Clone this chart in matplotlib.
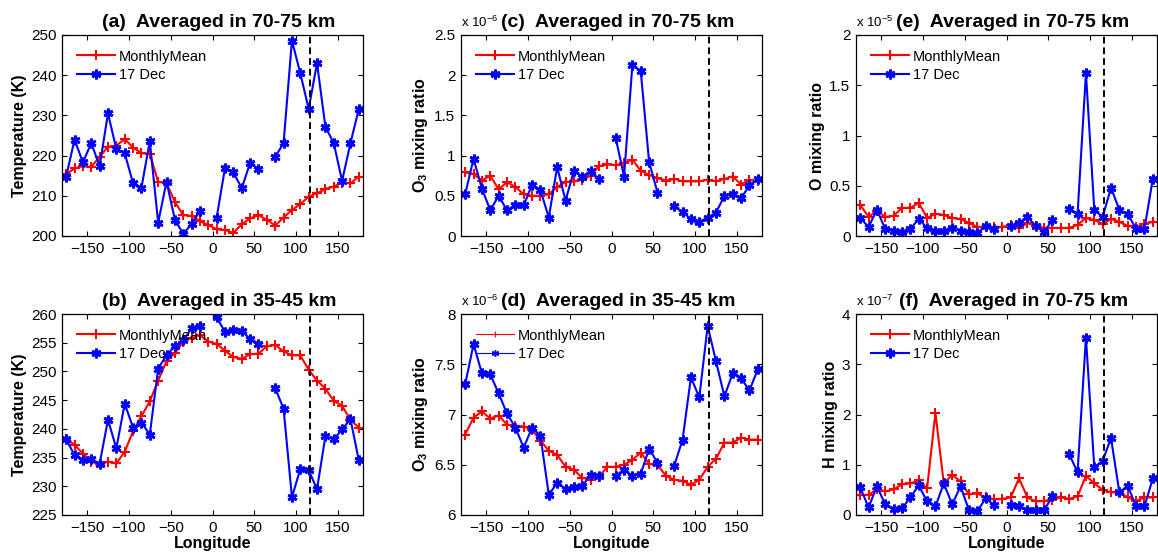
import numpy as np
import matplotlib
matplotlib.use("Agg")
import matplotlib.pyplot as plt
from matplotlib.lines import Line2D
from matplotlib.ticker import FuncFormatter, MultipleLocator

plt.rcParams['font.family'] = ['Liberation Sans', 'DejaVu Sans']
plt.rcParams['mathtext.fontset'] = 'custom'
plt.rcParams['mathtext.rm'] = 'Liberation Sans'
plt.rcParams['mathtext.bf'] = 'Liberation Sans:bold'
plt.rcParams['mathtext.it'] = 'Liberation Sans:italic'

nan = np.nan

# ---------------- data ----------------
longitude = [-175, -165, -155, -145, -135, -125, -115, -105, -95, -85, -75, -65,
             -55, -45, -35, -25, -15, -5, 5, 15, 25, 35, 45, 55,
             65, 75, 85, 95, 105, 115, 125, 135, 145, 155, 165, 175]

# (a) Temperature, 70-75 km (K)
temp70_mean = [215.4, 216.8, 217.4, 217.2, 219.7, 222.2, 222.5, 224.1, 222.0, 220.6, 220.4, 213.5,
               213.1, 208.5, 205.2, 205.0, 203.7, 202.7, 201.7, 201.5, 200.8, 202.9, 204.4, 205.2,
               204.0, 202.6, 204.6, 206.5, 207.9, 209.8, 210.6, 211.7, 212.3, 213.3, 213.1, 214.8]
temp70_dec17 = [214.8, 224.0, 218.3, 223.1, 217.4, 230.5, 221.6, 220.6, 213.1, 212.0, 223.6, 203.3,
                213.5, 204.1, 200.5, 203.0, 206.2, nan, 204.6, 217.0, 215.8, 211.9, 218.2, 216.6,
                nan, 219.7, 223.1, 248.6, 240.5, 231.6, 243.0, 227.2, 223.1, 213.7, 223.1, 231.6]

# (b) Temperature, 35-45 km (K)
temp40_mean = [238.3, 237.2, 235.7, 234.3, 233.8, 234.3, 234.0, 236.0, 239.6, 242.2, 244.8, 248.4,
               251.8, 253.2, 255.2, 255.8, 256.3, 255.2, 254.8, 253.6, 252.5, 252.2, 253.0, 253.1,
               254.4, 254.6, 253.5, 252.8, 252.8, 250.3, 248.4, 247.0, 244.9, 244.0, 241.6, 240.2]
temp40_dec17 = [238.2, 235.4, 234.5, 234.7, 233.9, 241.6, 236.6, 244.4, 240.2, 241.1, 239.0, 250.5,
                252.8, 254.4, 255.4, 257.5, 257.9, nan, 259.4, 256.9, 257.3, 257.0, 255.7, 254.8,
                nan, 247.1, 243.5, 228.1, 233.0, 232.8, 229.5, 238.7, 238.2, 239.9, 241.7, 234.5]

# (c) O3 mixing ratio, 70-75 km (units of 1e-6)
o3_70_mean = [0.79, 0.77, 0.69, 0.75, 0.58, 0.67, 0.61, 0.52, 0.50, 0.50, 0.52, 0.61,
              0.67, 0.68, 0.70, 0.75, 0.87, 0.89, 0.88, 0.91, 0.95, 0.81, 0.76, 0.72,
              0.69, 0.71, 0.68, 0.68, 0.68, 0.70, 0.68, 0.71, 0.74, 0.64, 0.70, 0.68]
o3_70_dec17 = [0.52, 0.96, 0.59, 0.32, 0.50, 0.32, 0.38, 0.38, 0.64, 0.57, 0.23, 0.86,
               0.44, 0.81, 0.74, 0.81, 0.71, nan, 1.22, 0.74, 2.13, 2.05, 0.92, 0.54,
               nan, 0.37, 0.30, 0.21, 0.17, 0.23, 0.29, 0.50, 0.52, 0.47, 0.63, 0.71]

# (d) O3 mixing ratio, 35-45 km (units of 1e-6)
o3_40_mean = [6.80, 6.97, 7.03, 6.96, 6.99, 6.90, 6.89, 6.88, 6.85, 6.74, 6.64, 6.60,
              6.48, 6.45, 6.37, 6.35, 6.38, 6.48, 6.48, 6.50, 6.55, 6.62, 6.51, 6.50,
              6.39, 6.35, 6.34, 6.30, 6.35, 6.48, 6.56, 6.72, 6.72, 6.77, 6.75, 6.75]
o3_40_dec17 = [7.30, 7.70, 7.41, 7.40, 7.21, 7.01, 6.87, 6.67, 6.87, 6.79, 6.20, 6.32,
               6.26, 6.28, 6.29, 6.40, 6.39, nan, 6.39, 6.45, 6.39, 6.41, 6.66, 6.52,
               nan, 6.49, 6.75, 7.37, 7.17, 7.88, 7.53, 7.18, 7.41, 7.36, 7.24, 7.45]

# (e) O mixing ratio, 70-75 km (units of 1e-5)
o_70_mean = [0.31, 0.19, 0.25, 0.19, 0.20, 0.28, 0.28, 0.33, 0.18, 0.22, 0.21, 0.18,
             0.17, 0.13, 0.09, 0.09, 0.09, 0.09, 0.11, 0.08, 0.13, 0.10, 0.08, 0.08,
             0.08, 0.08, 0.11, 0.18, 0.16, 0.12, 0.17, 0.14, 0.10, 0.09, 0.12, 0.14]
o_70_dec17 = [0.18, 0.09, 0.26, 0.07, 0.05, 0.04, 0.07, 0.17, 0.08, 0.05, 0.05, 0.08,
              0.05, 0.04, 0.03, 0.10, 0.07, nan, 0.10, 0.13, 0.19, 0.10, 0.04, 0.16,
              nan, 0.27, 0.22, 1.62, 0.26, 0.19, 0.48, 0.26, 0.22, 0.07, 0.07, 0.57]

# (f) H mixing ratio, 70-75 km (units of 1e-7)
h_70_mean = [0.40, 0.40, 0.51, 0.47, 0.51, 0.61, 0.63, 0.69, 0.53, 2.03, 0.63, 0.80,
             0.67, 0.41, 0.43, 0.35, 0.31, 0.32, 0.35, 0.73, 0.35, 0.27, 0.28, 0.30,
             0.35, 0.32, 0.37, 0.78, 0.63, 0.50, 0.45, 0.45, 0.35, 0.28, 0.35, 0.35]
h_70_dec17 = [0.55, 0.15, 0.57, 0.21, 0.11, 0.13, 0.35, 0.59, 0.27, 0.17, 0.63, 0.21,
              0.57, 0.10, 0.07, 0.33, 0.20, nan, 0.20, 0.18, 0.10, 0.10, 0.10, 0.37,
              nan, 1.21, 0.85, 3.53, 0.95, 1.08, 1.53, 0.45, 0.58, 0.17, 0.17, 0.73]

event_longitude = 117

panels = [
    dict(pos=(62, 35), mean=temp70_mean, dec=temp70_dec17, ylim=(200, 250), ystep=10,
         ylabel='Temperature (K)', title='(a)  Averaged in 70-75 km', scale=None, xlabel=False),
    dict(pos=(62, 314), mean=temp40_mean, dec=temp40_dec17, ylim=(225, 260), ystep=5,
         ylabel='Temperature (K)', title='(b)  Averaged in 35-45 km', scale=None, xlabel=True),
    dict(pos=(461, 35), mean=o3_70_mean, dec=o3_70_dec17, ylim=(0, 2.5), ystep=0.5,
         ylabel=r'O$_{\mathbf{3}}$ mixing ratio', title='(c)  Averaged in 70-75 km', scale='-6', xlabel=False),
    dict(pos=(461, 314), mean=o3_40_mean, dec=o3_40_dec17, ylim=(6, 8), ystep=0.5,
         ylabel=r'O$_{\mathbf{3}}$ mixing ratio', title='(d)  Averaged in 35-45 km', scale='-6', xlabel=True,
         thin_legend=True),
    dict(pos=(856, 35), mean=o_70_mean, dec=o_70_dec17, ylim=(0, 2), ystep=0.5,
         ylabel='O mixing ratio', title='(e)  Averaged in 70-75 km', scale='-5', xlabel=False),
    dict(pos=(856, 314), mean=h_70_mean, dec=h_70_dec17, ylim=(0, 4), ystep=1,
         ylabel='H mixing ratio', title='(f)  Averaged in 70-75 km', scale='-7', xlabel=True),
]

W, H = 1158, 556
fig = plt.figure(figsize=(W / 100, H / 100), dpi=100)
fmt = FuncFormatter(lambda v, p: '%g' % round(v, 6))

ast = (6, 2, 0)
for p in panels:
    x0, y0 = p['pos']
    aw, ah = 301, 201
    ax = fig.add_axes([x0 / W, 1 - (y0 + ah) / H, aw / W, ah / H])
    ax.plot(longitude, p['mean'], color='red', marker='+', ms=7, mew=1.5, lw=1.5,
            label='MonthlyMean')
    ax.plot(longitude, p['dec'], color='blue', marker=ast, ms=7, mew=2, lw=1.5,
            label='17 Dec')
    ax.axvline(event_longitude, color='black', ls='--', lw=1.4, dashes=(3.5, 2))
    ax.set_xlim(-180, 180)
    ax.set_ylim(*p['ylim'])
    ax.xaxis.set_major_locator(MultipleLocator(50))
    ax.yaxis.set_major_locator(MultipleLocator(p['ystep']))
    ax.yaxis.set_major_formatter(fmt)
    ax.tick_params(direction='in', top=True, right=True, length=3.5, width=0.8,
                   labelsize=11, pad=4)
    for s in ax.spines.values():
        s.set_linewidth(0.9)
    ax.set_ylabel(p['ylabel'], fontsize=11.5, fontweight='bold', labelpad=3)
    if p['xlabel']:
        ax.set_xlabel('Longitude', fontsize=11.5, fontweight='bold', labelpad=1)
    t = ax.set_title(p['title'], fontsize=14, fontweight='bold', pad=6)
    t.set_x(0.522)
    if p['scale']:
        ax.text(0.0, 1.025, r'x 10$^{%s}$' % p['scale'], transform=ax.transAxes,
                ha='left', va='bottom', fontsize=9.5)
    if p.get('thin_legend'):
        handles = [Line2D([], [], color='red', marker='+', ms=5, mew=0.8, lw=0.8),
                   Line2D([], [], color='blue', marker=ast, ms=5, mew=1, lw=0.8)]
        ax.legend(handles, ['MonthlyMean', '17 Dec'], loc='upper left', frameon=False,
                  fontsize=10.5, handlelength=2.6, borderaxespad=0.6, labelspacing=0.3,
                  handletextpad=0.3, numpoints=1)
    else:
        ax.legend(loc='upper left', frameon=False, fontsize=10.5, handlelength=2.6,
                  borderaxespad=0.6, labelspacing=0.3, handletextpad=0.3, numpoints=1)

fig.savefig('out.png', dpi=100)
